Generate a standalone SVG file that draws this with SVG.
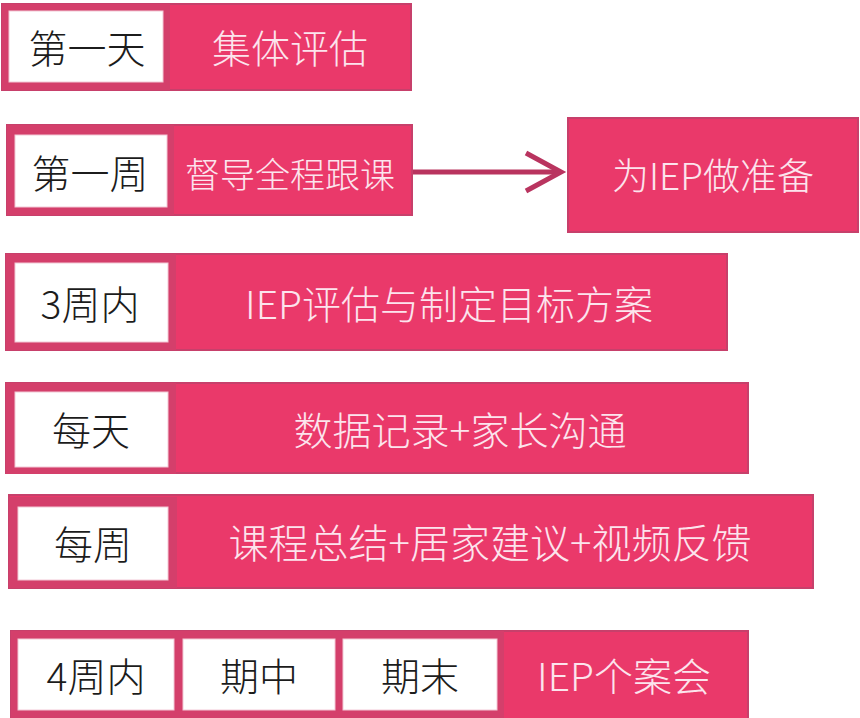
<svg xmlns="http://www.w3.org/2000/svg" width="860" height="718" viewBox="0 0 860 718">
<defs>
<style>
.bar{fill:#ea396a;stroke:#c7406b;stroke-width:2}
.frame{fill:#d43f6b}
.lab{fill:#ffffff;stroke:#f2c9d6;stroke-width:1}
.t{font-family:"Noto Sans CJK SC","Noto Sans",sans-serif;font-size:39px;font-weight:300;text-anchor:middle;dominant-baseline:central}
.dk{fill:#1c1c1c}
.lt{fill:#fce4ed}
.conn{fill:none;stroke:#b9345f;stroke-width:5}
</style>
<marker id="chev" markerUnits="userSpaceOnUse" markerWidth="44" markerHeight="48" refX="38" refY="22" orient="auto">
<path d="M3,3 L38,22 L3,41" fill="none" stroke="#b9345f" stroke-width="5" stroke-linejoin="miter"/>
</marker>
</defs>
<rect width="860" height="718" fill="#ffffff"/>

<g id="row1">
<rect class="bar" x="2" y="4" width="409" height="86"/>
<rect class="frame" x="2" y="4" width="168" height="86"/>
<rect class="lab" x="9" y="11" width="154" height="71"/>
<text class="t dk" x="87" y="46">第一天</text>
<text class="t lt" x="290" y="46">集体评估</text>
</g>

<g id="row2">
<rect class="bar" x="7" y="125" width="405" height="90"/>
<rect class="frame" x="7" y="125" width="167" height="90"/>
<rect class="lab" x="15" y="135" width="152" height="72"/>
<text class="t dk" x="90" y="171">第一周</text>
<text class="t lt" x="290" y="172" style="font-size:35px">督导全程跟课</text>
</g>

<g id="prep">
<rect class="bar" x="568" y="118" width="290" height="114"/>
<text class="t lt" x="713" y="174" style="font-size:37px">为IEP做准备</text>
</g>

<g id="row3">
<rect class="bar" x="6" y="254" width="721" height="96"/>
<rect class="frame" x="6" y="254" width="170" height="96"/>
<rect class="lab" x="15" y="263" width="153" height="79"/>
<text class="t dk" x="90" y="302">3周内</text>
<text class="t lt" x="449" y="302">IEP评估与制定目标方案</text>
</g>

<g id="row4">
<rect class="bar" x="6" y="383" width="742" height="90"/>
<rect class="frame" x="6" y="383" width="170" height="91"/>
<rect class="lab" x="15" y="392" width="153" height="75"/>
<text class="t dk" x="91" y="428">每天</text>
<text class="t lt" x="460" y="428">数据记录+家长沟通</text>
</g>

<g id="row5">
<rect class="bar" x="9" y="495" width="804" height="93"/>
<rect class="frame" x="9" y="497" width="168" height="91"/>
<rect class="lab" x="18" y="507" width="150" height="73"/>
<text class="t dk" x="93" y="542">每周</text>
<text class="t lt" x="490" y="541" style="font-size:40px">课程总结+居家建议+视频反馈</text>
</g>

<g id="row6">
<rect class="bar" x="11" y="631" width="737" height="89"/>
<rect class="frame" x="11" y="631" width="493" height="89"/>
<rect class="lab" x="18" y="639" width="156" height="71"/>
<rect class="lab" x="183" y="639" width="152" height="71"/>
<rect class="lab" x="343" y="639" width="154" height="71"/>
<text class="t dk" x="96" y="674">4周内</text>
<text class="t dk" x="259" y="674">期中</text>
<text class="t dk" x="420" y="674">期末</text>
<text class="t lt" x="624" y="674">IEP个案会</text>
</g>

<g id="connectors">
<path class="conn" d="M413,172 H561" marker-end="url(#chev)"/>
</g>
</svg>
